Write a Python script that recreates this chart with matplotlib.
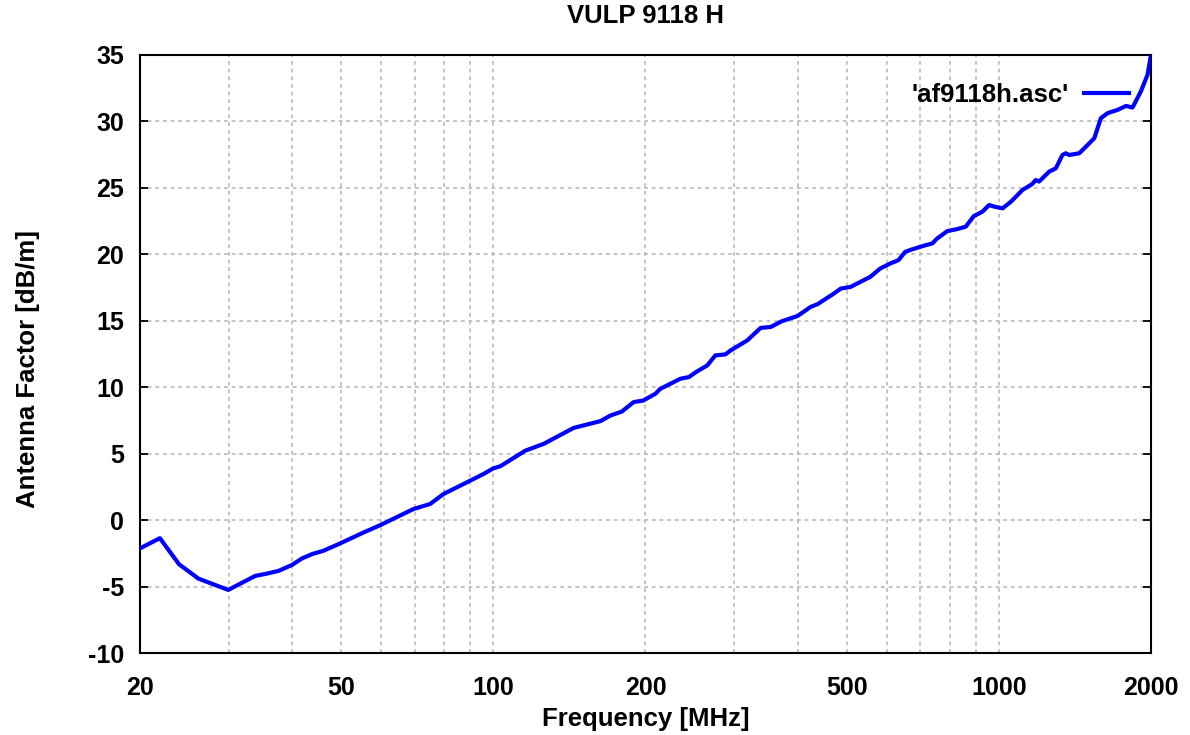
import matplotlib
matplotlib.use("Agg")
import matplotlib.pyplot as plt
from matplotlib.ticker import FixedLocator, NullFormatter

# antenna factor
freq_mhz = [20, 21.9, 23.9, 26.1, 29.9, 33.8, 35.6, 37.6, 40, 41.8, 43.8, 46.1, 49.4,
            55.4, 60, 69.5, 75, 79.7, 90, 95.7, 100, 103.3, 115.7, 125.8, 144.2,
            162.9, 170.5, 179.6, 189.5, 198, 209.3, 214, 234.6, 243.7, 251.8, 265,
            275, 288, 294.8, 318, 338, 354, 371.6, 400, 424.5, 437.8, 468.7, 487.2,
            509, 557, 582.5, 609.7, 633, 653, 673, 716.9, 738.6, 755.2, 791, 827.5,
            860, 892.8, 928.3, 957, 979, 1017.6, 1057, 1114, 1165, 1183, 1201, 1258,
            1297, 1336, 1357, 1378, 1442, 1465, 1545, 1592, 1642, 1718, 1785, 1839,
            1910, 1969, 2000]
af_dbm = [-2.1, -1.33, -3.29, -4.37, -5.22, -4.17, -4.0, -3.79, -3.34, -2.86, -2.53,
          -2.28, -1.78, -0.9, -0.32, 0.86, 1.24, 1.99, 2.99, 3.5, 3.92, 4.08, 5.25,
          5.76, 6.96, 7.47, 7.89, 8.19, 8.9, 9.02, 9.53, 9.9, 10.66, 10.78, 11.16,
          11.66, 12.41, 12.49, 12.79, 13.54, 14.48, 14.55, 14.97, 15.38, 16.06, 16.26,
          16.99, 17.44, 17.56, 18.32, 18.94, 19.32, 19.57, 20.2, 20.38, 20.7, 20.83,
          21.2, 21.76, 21.91, 22.09, 22.89, 23.22, 23.72, 23.6, 23.47, 23.97, 24.85,
          25.3, 25.6, 25.48, 26.23, 26.48, 27.48, 27.61, 27.48, 27.61, 27.86, 28.74,
          30.25, 30.63, 30.87, 31.17, 31.05, 32.26, 33.51, 35.0]

xtick_vals = [20, 50, 100, 200, 500, 1000, 2000]
xtick_labels = ["20", "50", "100", "200", "500", "1000", "2000"]
grid_x = [30, 40, 50, 60, 70, 80, 90, 100, 200, 300, 400, 500, 600, 700, 800, 900, 1000]
ytick_vals = list(range(-10, 36, 5))

plt.rcParams['font.family'] = ['Liberation Sans', 'DejaVu Sans']
plt.rcParams['font.weight'] = 'bold'
plt.rcParams['axes.unicode_minus'] = False

fig = plt.figure(figsize=(11.9, 7.35), dpi=100)
ax = fig.add_axes([0.1176, 0.1109, 0.8496, 0.8143])

ax.plot(freq_mhz, af_dbm, color='#0000ff', lw=3, label="'af9118h.asc'", zorder=3)

ax.set_xscale('log')
ax.set_xlim(20, 2000)
ax.set_ylim(-10, 35)

ax.xaxis.set_major_locator(FixedLocator(xtick_vals))
ax.set_xticklabels(xtick_labels)
ax.xaxis.set_minor_locator(FixedLocator([100, 1000]))
ax.xaxis.set_minor_formatter(NullFormatter())
ax.set_yticks(ytick_vals)

ax.tick_params(axis='x', which='major', length=0, pad=16, labelsize=18)
ax.tick_params(axis='x', which='minor', direction='in', length=6, width=1.3, top=True)
ax.tick_params(axis='y', which='major', direction='in', length=6, width=1.3,
               right=True, labelsize=18, pad=11.5)

for gx in grid_x:
    ax.axvline(gx, color='#b4b4b4', lw=1.1, ls=(0, (2.5, 2.5)), zorder=1)
for gy in ytick_vals[1:-1]:
    ax.axhline(gy, color='#b4b4b4', lw=1.1, ls=(0, (2.5, 2.5)), zorder=1)

for s in ax.spines.values():
    s.set_linewidth(1.5)

ax.set_title('VULP 9118 H', fontsize=18.5, fontweight='bold', pad=23)
ax.set_xlabel('Frequency [MHz]', fontsize=18.5, fontweight='bold')
ax.set_ylabel('Antenna Factor [dB/m]', fontsize=18.5, fontweight='bold')
ax.xaxis.set_label_coords(0.5, -0.09)
ax.yaxis.set_label_coords(-0.099, 0.475)

ax.legend(loc='center right', frameon=False, fontsize=18.5, markerfirst=False,
          handlelength=1.76, handletextpad=0.56, borderpad=0, borderaxespad=0,
          bbox_to_anchor=(0.978, 0.933))

plt.savefig('out.png', dpi=100)
